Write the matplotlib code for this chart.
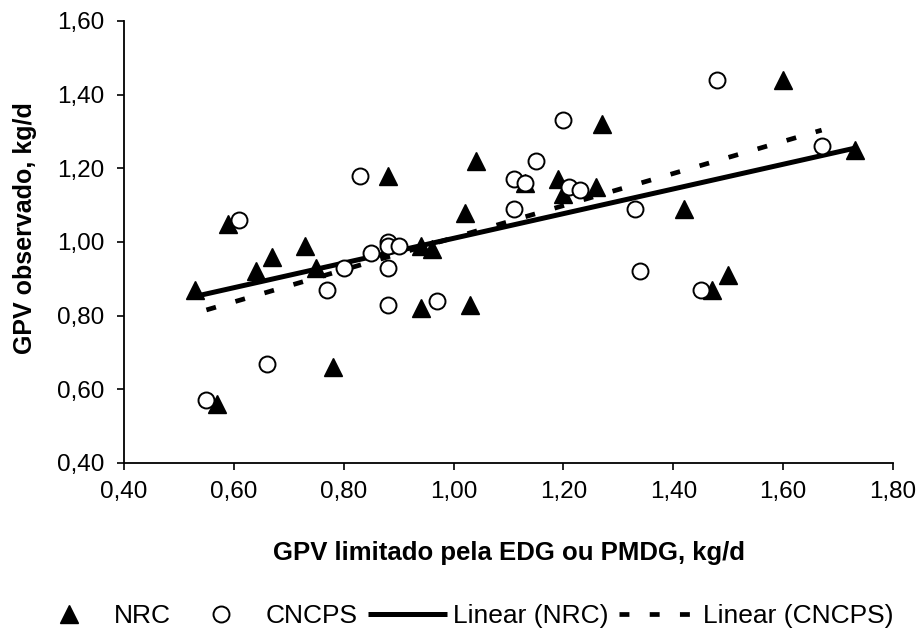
import matplotlib

matplotlib.use("Agg")
import matplotlib.pyplot as plt
import numpy as np
from matplotlib.ticker import FuncFormatter

# values
nrc_x = [0.53, 0.59, 0.64, 0.67, 0.73, 0.75, 0.78, 0.57, 0.88, 0.94, 0.96, 0.94, 1.03,
         1.02, 1.04, 1.60, 1.27, 1.13, 1.19, 1.20, 1.26, 1.42, 1.73, 1.50, 1.47]
nrc_y = [0.87, 1.05, 0.92, 0.96, 0.99, 0.93, 0.66, 0.56, 1.18, 0.99, 0.98, 0.82, 0.83,
         1.08, 1.22, 1.44, 1.32, 1.16, 1.17, 1.13, 1.15, 1.09, 1.25, 0.91, 0.87]

cncps_x = [0.61, 0.55, 0.66, 0.77, 0.80, 0.83, 0.85, 0.88, 0.88, 0.90, 0.88, 0.88, 0.97,
           1.48, 1.20, 1.15, 1.11, 1.13, 1.11, 1.21, 1.23, 1.33, 1.67, 1.34, 1.45]
cncps_y = [1.06, 0.57, 0.67, 0.87, 0.93, 1.18, 0.97, 1.00, 0.99, 0.99, 0.93, 0.83, 0.84,
           1.44, 1.33, 1.22, 1.17, 1.16, 1.09, 1.15, 1.14, 1.09, 1.26, 0.92, 0.87]

x_ticks = [0.40, 0.60, 0.80, 1.00, 1.20, 1.40, 1.60, 1.80]
y_ticks = [0.40, 0.60, 0.80, 1.00, 1.20, 1.40, 1.60]

plt.rcParams["font.family"] = ["Liberation Sans", "DejaVu Sans"]

fig = plt.figure(figsize=(9.2, 6.3), dpi=100)
ax = fig.add_axes([0.1348, 0.2651, 0.8359, 0.7016])


def trend(xs, ys):
    slope, intercept = np.polyfit(xs, ys, 1)
    xx = np.array([min(xs), max(xs)])
    return xx, slope * xx + intercept


ax.plot(nrc_x, nrc_y, linestyle="none", marker="^", ms=13.5, color="black",
        label="NRC", zorder=3)
ax.plot(cncps_x, cncps_y, linestyle="none", marker="o", ms=11.5, mfc="white",
        mec="black", mew=1.4, label="CNCPS", zorder=3)

tx, ty = trend(nrc_x, nrc_y)
ax.plot(tx, ty, color="black", lw=3.6, solid_capstyle="butt", label="Linear (NRC)", zorder=2)
cx, cy = trend(cncps_x, cncps_y)
ax.plot(cx, cy, color="black", lw=3.4, linestyle=(0, (2.1, 4.3)), dash_capstyle="butt",
        label="Linear (CNCPS)", zorder=2)

ax.set_xlim(0.40, 1.80)
ax.set_ylim(0.40, 1.60)
ax.set_xticks(x_ticks)
ax.set_yticks(y_ticks)
fmt = FuncFormatter(lambda v, pos: f"{v:.2f}".replace(".", ","))
ax.xaxis.set_major_formatter(fmt)
ax.yaxis.set_major_formatter(fmt)
ax.tick_params(direction="out", length=5, width=1.2, labelsize=17.5)
ax.tick_params(axis="y", pad=9)
ax.tick_params(axis="x", pad=8)

for side in ["top", "right"]:
    ax.spines[side].set_visible(False)
for side in ["left", "bottom"]:
    ax.spines[side].set_linewidth(1.3)

ax.set_xlabel("GPV limitado pela EDG ou PMDG, kg/d", fontsize=18.5, fontweight="bold",
              va="center")
ax.xaxis.set_label_coords(0.5, -0.204)
ax.set_ylabel("GPV observado, kg/d", fontsize=18, fontweight="bold", va="center")
ax.yaxis.set_label_coords(-0.1287, 0.532)

fig.legend(loc="center", bbox_to_anchor=(0.5016, 0.022), ncol=4, frameon=False,
           fontsize=19, handlelength=3.0, handletextpad=0.2, columnspacing=0.4,
           borderaxespad=0, borderpad=0)

fig.savefig("out.png", dpi=100, facecolor="white")
